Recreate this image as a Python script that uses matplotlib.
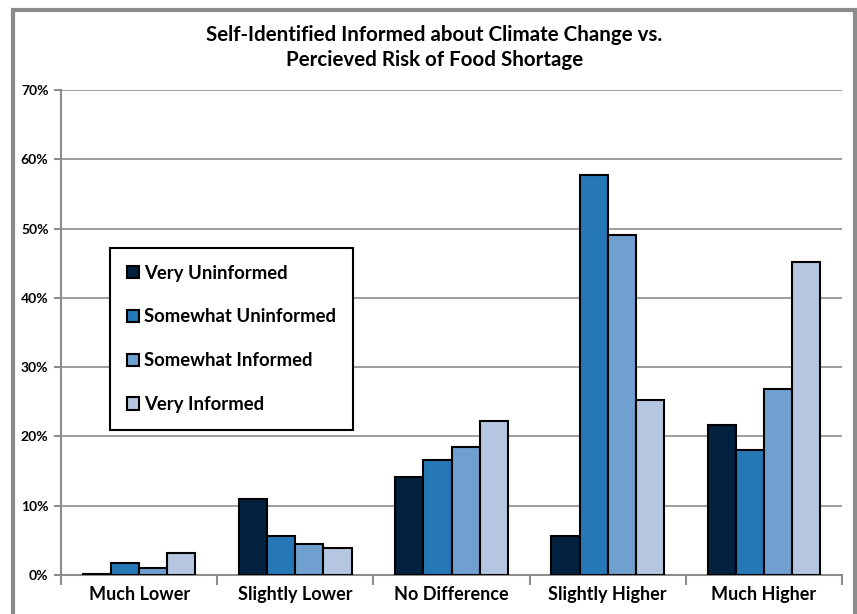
import numpy as np
import matplotlib.pyplot as plt
from matplotlib.patches import Rectangle
from matplotlib.ticker import PercentFormatter

categories = ['Much Lower', 'Slightly Lower', 'No Difference', 'Slightly Higher', 'Much Higher']
series = ['Very Uninformed', 'Somewhat Uninformed', 'Somewhat Informed', 'Very Informed']
very_uninformed = [0.1, 11.0, 14.1, 5.6, 21.6]
somewhat_uninformed = [1.7, 5.6, 16.6, 57.7, 18.0]
somewhat_informed = [1.05, 4.5, 18.5, 49.1, 26.8]
very_informed = [3.2, 3.9, 22.2, 25.3, 45.2]
values = [very_uninformed, somewhat_uninformed, somewhat_informed, very_informed]
colors = ['#03223f', '#2577b5', '#70a0cf', '#b4c6e0']

plt.rcParams['font.family'] = ['Lato', 'DejaVu Sans']

fig = plt.figure(figsize=(8.57, 6.14), dpi=100)
# outer chart frame
fig.patches.append(Rectangle((13/857, -0.05), (855-13)/857, 1.05 - 10/614,
                             transform=fig.transFigure, fill=False,
                             edgecolor='#8c8c8c', linewidth=3))

ax = fig.add_axes([61/857, 1-575/614, (842-61)/857, (575-90)/614])

x = np.arange(len(categories))
w = 0.18
for i, (name, vals, c) in enumerate(zip(series, values, colors)):
    ax.bar(x + (i - 1.5)*w, vals, w, color=c, edgecolor='black', linewidth=1.5,
           label=name, zorder=3)

ax.set_xlim(-0.5, len(categories) - 0.5)
ax.set_ylim(0, 70)
ax.set_yticks(np.arange(0, 71, 10))
ax.yaxis.set_major_formatter(PercentFormatter(decimals=0))
ax.grid(axis='y', color='#8c8c8c', linewidth=1.2, zorder=0)
ax.set_xticks(np.arange(-0.5, len(categories), 1))
ax.set_xticklabels([])
ax.set_xticks(x, minor=True)
ax.set_xticklabels(categories, minor=True, fontsize=13, fontweight='bold')
ax.tick_params(axis='x', which='minor', length=0, pad=8)
ax.tick_params(axis='x', which='major', length=7, width=1.5, color='#8c8c8c', direction='out')
ax.tick_params(axis='y', length=5, width=1.5, color='#8c8c8c', labelsize=10, pad=4)
for lab in ax.get_yticklabels():
    lab.set_fontweight('bold')
for s in ['top', 'right']:
    ax.spines[s].set_visible(False)
for s in ['left', 'bottom']:
    ax.spines[s].set_color('#8c8c8c')
    ax.spines[s].set_linewidth(1.5)

leg = ax.legend(loc='upper left', bbox_to_anchor=((110-61)/781, (575-248)/485),
                prop={'weight': 'bold', 'size': 13.3}, fancybox=False, framealpha=1,
                edgecolor='black', handlelength=0.65, handleheight=0.65,
                handletextpad=0.3, labelspacing=1.45, borderpad=0.9, borderaxespad=0)
leg.get_frame().set_linewidth(1.5)
for h in leg.legend_handles:
    h.set_linewidth(1.5)

fig.text(0.507, 1-35/614, 'Self-Identified Informed about Climate Change vs.',
         ha='center', va='center', fontsize=14.8, fontweight='bold')
fig.text(0.507, 1-60/614, 'Percieved Risk of Food Shortage',
         ha='center', va='center', fontsize=14.8, fontweight='bold')

fig.savefig('out.png', dpi=100)
